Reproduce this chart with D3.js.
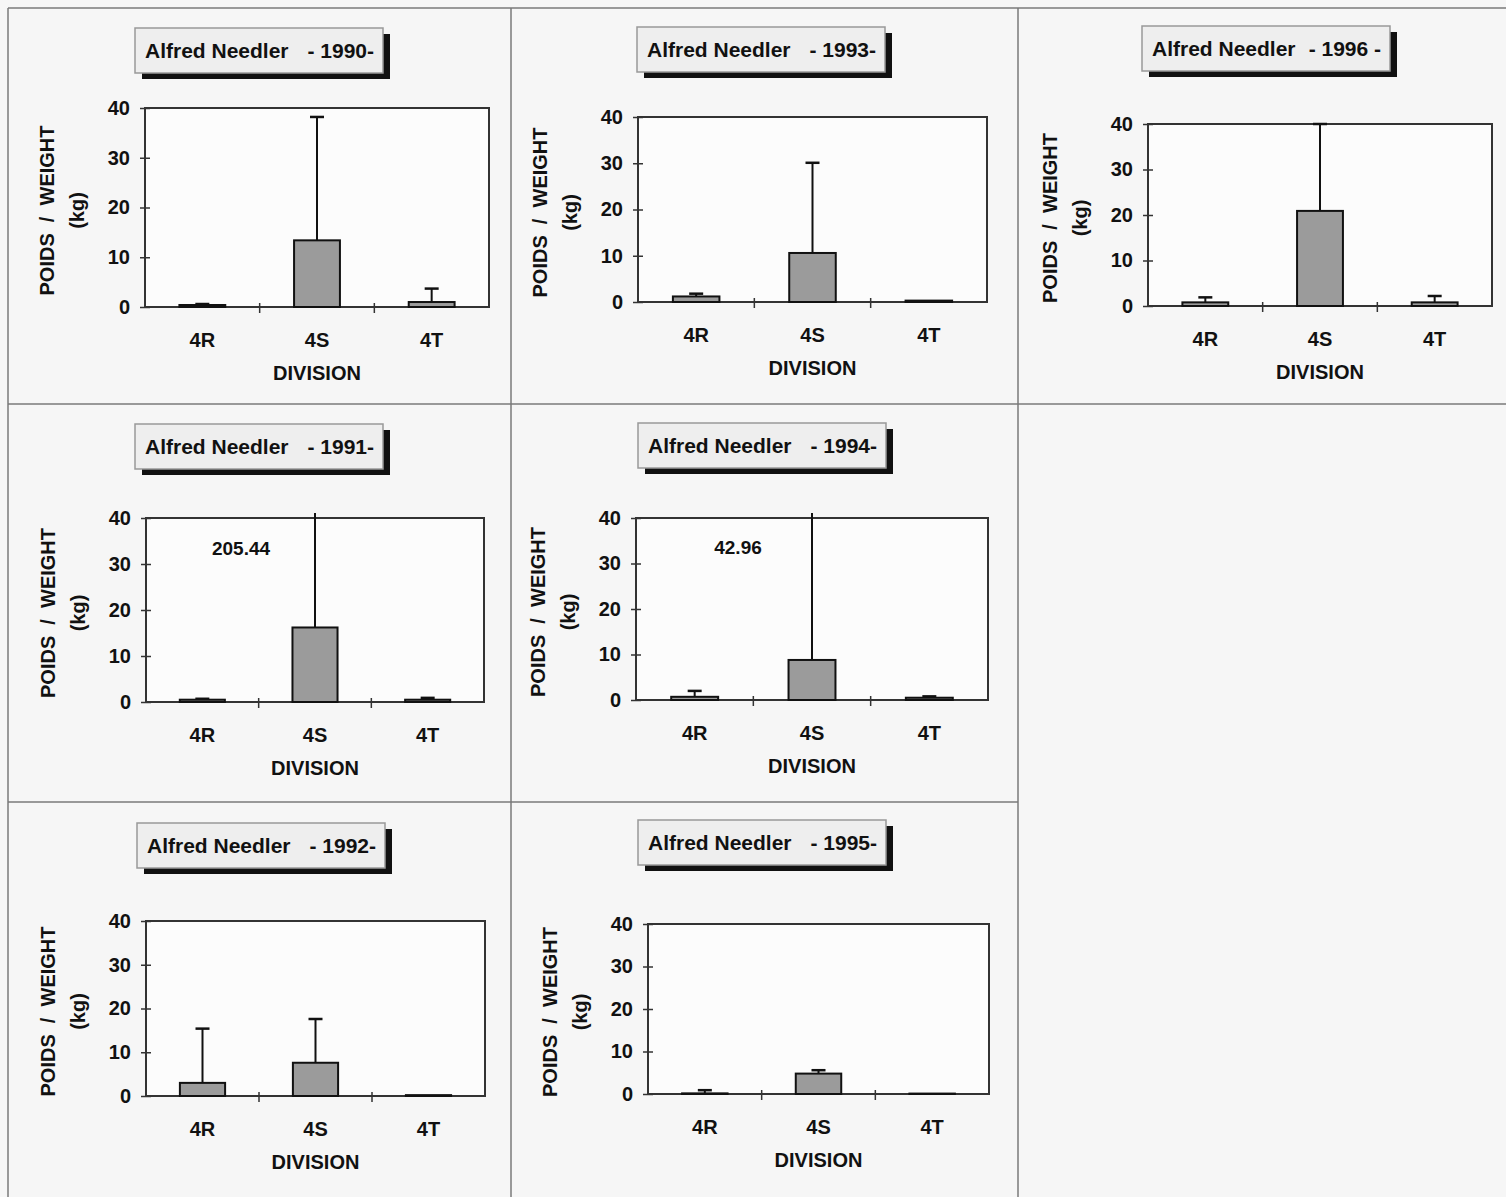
<!DOCTYPE html>
<html>
<head>
<meta charset="utf-8">
<script src="https://cdn.jsdelivr.net/npm/d3@7"></script>
<style>
  body { margin: 0; background: #f6f6f6; }
  text { font-family: "Liberation Sans", Arial, sans-serif; font-weight: bold; fill: #111; }
</style>
</head>
<body>
<svg id="chart" width="1506" height="1197"></svg>
<script>
// data (kg)
var divisions = ["4R", "4S", "4T"];
var years = [1990, 1991, 1992, 1993, 1994, 1995, 1996];
var yearLabels = ["- 1990-", "- 1991-", "- 1992-", "- 1993-", "- 1994-", "- 1995-", "- 1996 -"];
var vesselName = "Alfred Needler";
var meanKg = [
  [0.4, 13.4, 1.0],
  [0.5, 16.2, 0.5],
  [3.0, 7.6, 0.2],
  [1.2, 10.6, 0.3],
  [0.7, 8.8, 0.5],
  [0.15, 4.8, 0.1],
  [0.8, 20.9, 0.8]
];
var upperKg = [
  [0.6, 38.2, 3.7],
  [0.7, 205.44, 0.9],
  [15.4, 17.6, 0.2],
  [1.8, 30.1, 0.3],
  [2.0, 42.96, 0.8],
  [0.9, 5.6, 0.1],
  [1.9, 40, 2.2]
];
var yTicks = [0, 10, 20, 30, 40];
var yMax = 40;

// page layout (grid of scanned panels)
var cellX = [8, 511, 1018];
var cellY = [8, 404, 802];
var panelCol = [0, 0, 0, 1, 1, 1, 2];
var panelRow = [0, 1, 2, 0, 1, 2, 0];
// plot frame inside each cell: left, top, width, height
var frames = [
  [137, 100, 344, 199],
  [138, 114, 338, 184],
  [138, 119, 339, 175],
  [127, 109, 349, 185],
  [125, 114, 352, 182],
  [137, 122, 341, 170],
  [130, 116, 344, 182]
];
// title box inside each cell: left, top
var titleBoxes = [
  [127, 20], [127, 20], [129, 21], [126, 19], [127, 19], [127, 18], [124, 18]
];

var svg = d3.select("#chart");

var gridLines = [
  [8, 8, 1506, 8],
  [8, 8, 8, 1197],
  [511, 8, 511, 1197],
  [1018, 8, 1018, 1197],
  [8, 404, 1506, 404],
  [8, 802, 1018, 802]
];
svg.selectAll(".grid")
  .data(gridLines)
  .enter()
  .append("line")
  .attr("class", "grid")
  .attr("x1", function (d) { return d[0]; })
  .attr("y1", function (d) { return d[1]; })
  .attr("x2", function (d) { return d[2]; })
  .attr("y2", function (d) { return d[3]; })
  .style("stroke", "#7a7a7a")
  .style("stroke-width", 1.5);

for (var i = 0; i < years.length; i++) {
  var cx = cellX[panelCol[i]];
  var cy = cellY[panelRow[i]];
  var f = frames[i];
  var w = f[2];
  var h = f[3];

  // title box with drop shadow
  var tb = titleBoxes[i];
  var tg = svg.append("g").attr("transform", "translate(" + (cx + tb[0]) + "," + (cy + tb[1]) + ")");
  tg.append("rect")
    .attr("x", 7).attr("y", 6)
    .attr("width", 248).attr("height", 45)
    .style("fill", "#111");
  tg.append("rect")
    .attr("width", 248).attr("height", 45)
    .style("fill", "#eeeeee")
    .style("stroke", "#999")
    .style("stroke-width", 1.5);
  tg.append("text")
    .attr("x", 10).attr("y", 30)
    .style("font-size", "21px")
    .text(vesselName);
  tg.append("text")
    .attr("x", 239).attr("y", 30)
    .attr("text-anchor", "end")
    .style("font-size", "21px")
    .text(yearLabels[i]);

  var g = svg.append("g").attr("transform", "translate(" + (cx + f[0]) + "," + (cy + f[1]) + ")");

  var x = d3.scaleBand().domain(divisions).range([0, w]).paddingInner(0.6).paddingOuter(0.3);
  var y = d3.scaleLinear().domain([0, yMax]).range([h, 0]);

  g.append("rect")
    .attr("width", w).attr("height", h)
    .style("fill", "#fcfcfc")
    .style("stroke", "#333")
    .style("stroke-width", 2);

  // y axis with ticks crossing the frame
  var ya = g.append("g")
    .call(d3.axisLeft(y).tickValues(yTicks).tickSize(5).tickPadding(10))
    .attr("font-size", null).attr("font-family", null);
  ya.select(".domain").remove();
  ya.selectAll(".tick line").attr("x1", 5).style("stroke", "#333").style("stroke-width", 1.5);
  ya.selectAll(".tick text").style("font-size", "20px");

  // x axis: labels under band centres, ticks at band boundaries
  var xa = g.append("g")
    .attr("transform", "translate(0," + h + ")")
    .call(d3.axisBottom(x).tickSize(0).tickPadding(26))
    .attr("font-size", null).attr("font-family", null);
  xa.select(".domain").remove();
  xa.selectAll(".tick text").style("font-size", "20px");

  var bounds = divisions.slice(1).map(function (d) { return x(d) + x.bandwidth() / 2 - x.step() / 2; });
  g.selectAll(".xtick")
    .data(bounds)
    .enter()
    .append("line")
    .attr("x1", function (d) { return d; })
    .attr("x2", function (d) { return d; })
    .attr("y1", h - 4)
    .attr("y2", h + 6)
    .style("stroke", "#333")
    .style("stroke-width", 1.5);

  var rows = divisions.map(function (d, k) {
    return { div: d, mean: meanKg[i][k], upper: upperKg[i][k] };
  });

  // error bars (upper only)
  rows.forEach(function (r) {
    var mid = x(r.div) + x.bandwidth() / 2;
    var top = r.upper > yMax ? -5 : y(r.upper);
    if (r.upper > r.mean) {
      g.append("line")
        .attr("x1", mid).attr("x2", mid)
        .attr("y1", y(r.mean)).attr("y2", top)
        .style("stroke", "#111").style("stroke-width", 2);
      if (r.upper <= yMax) {
        g.append("line")
          .attr("x1", mid - 7).attr("x2", mid + 7)
          .attr("y1", top).attr("y2", top)
          .style("stroke", "#111").style("stroke-width", 2.5);
      }
    }
    if (r.upper > yMax) {
      g.append("text")
        .attr("x", mid - 74)
        .attr("y", y(33.5))
        .attr("dy", "0.35em")
        .attr("text-anchor", "middle")
        .style("font-size", "19px")
        .text(r.upper.toFixed(2));
    }
  });

  g.selectAll(".bar")
    .data(rows)
    .enter()
    .append("rect")
    .attr("class", "bar")
    .attr("x", function (d) { return x(d.div); })
    .attr("y", function (d) { return y(d.mean); })
    .attr("width", x.bandwidth())
    .attr("height", function (d) { return h - y(d.mean); })
    .style("fill", "#9b9b9b")
    .style("stroke", "#111")
    .style("stroke-width", 2);

  // axis titles
  g.append("text")
    .attr("transform", "translate(-98," + (h / 2 + 3) + ")rotate(-90)")
    .attr("text-anchor", "middle")
    .attr("dy", "0.35em")
    .style("font-size", "20px")
    .style("white-space", "pre")
    .text("POIDS  /  WEIGHT");
  g.append("text")
    .attr("transform", "translate(-68," + (h / 2 + 3) + ")rotate(-90)")
    .attr("text-anchor", "middle")
    .attr("dy", "0.35em")
    .style("font-size", "20px")
    .text("(kg)");
  g.append("text")
    .attr("x", w / 2)
    .attr("y", h + 73)
    .attr("text-anchor", "middle")
    .style("font-size", "20px")
    .text("DIVISION");
}
</script>
</body>
</html>
